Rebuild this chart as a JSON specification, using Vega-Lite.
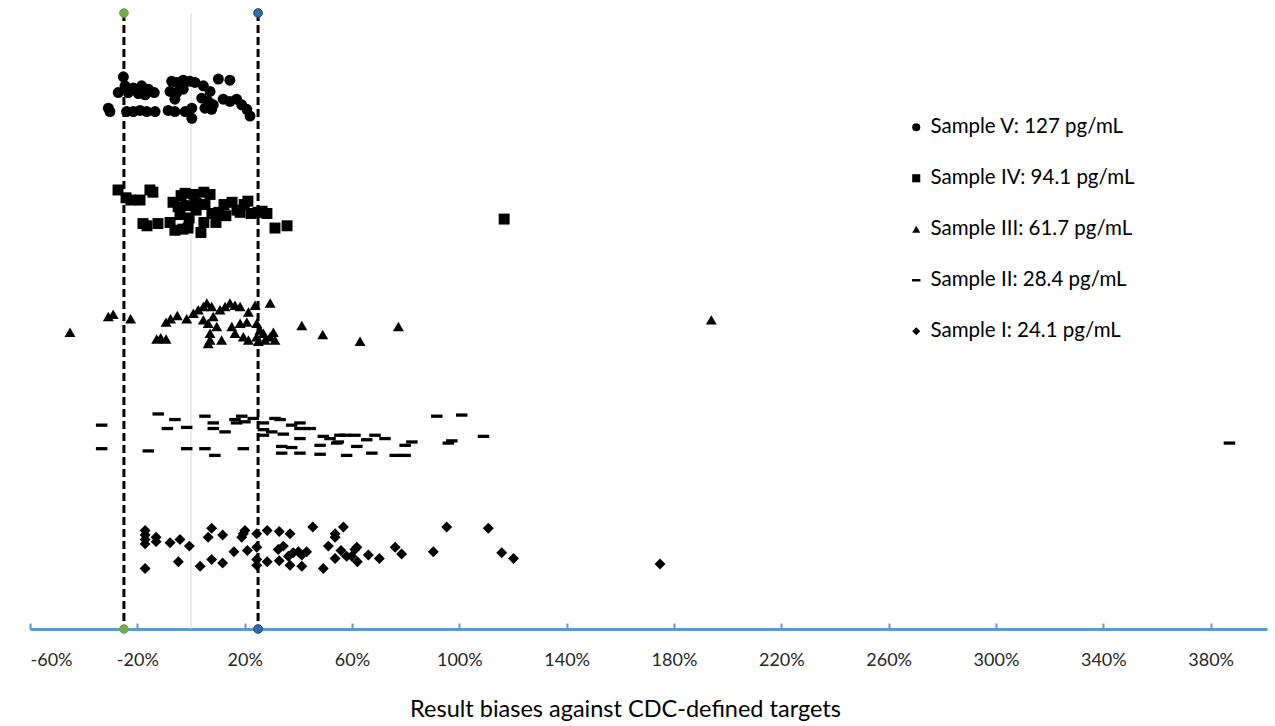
{
  "$schema": "https://vega.github.io/schema/vega-lite/v6.json",
  "width": 1237,
  "height": 616,
  "autosize": {"type": "none"},
  "padding": {"left": 30, "top": 13, "right": 8, "bottom": 97},
  "background": "white",
  "config": {"view": {"stroke": null}, "font": "Lato"},
  "datasets": {
    "points": [
      {"s":"V","bias":-25.2,"pos":4.93},{"s":"V","bias":-24.6,"pos":4.85},{"s":"V","bias":-21.5,"pos":4.83},{"s":"V","bias":-18.4,"pos":4.85},{"s":"V","bias":-15.9,"pos":4.82},{"s":"V","bias":-13.7,"pos":4.79},{"s":"V","bias":-27.1,"pos":4.79},{"s":"V","bias":-23.4,"pos":4.79},{"s":"V","bias":-19.6,"pos":4.78},{"s":"V","bias":-17.1,"pos":4.77},
      {"s":"V","bias":-30.8,"pos":4.65},{"s":"V","bias":-30.2,"pos":4.62},{"s":"V","bias":-24.0,"pos":4.62},{"s":"V","bias":-21.5,"pos":4.62},{"s":"V","bias":-19.0,"pos":4.63},{"s":"V","bias":-16.5,"pos":4.62},{"s":"V","bias":-13.4,"pos":4.62},{"s":"V","bias":-8.5,"pos":4.63},{"s":"V","bias":-6.0,"pos":4.62},{"s":"V","bias":-2.2,"pos":4.62},
      {"s":"V","bias":0.3,"pos":4.65},{"s":"V","bias":0.3,"pos":4.56},{"s":"V","bias":-7.2,"pos":4.89},{"s":"V","bias":-5.3,"pos":4.88},{"s":"V","bias":-2.9,"pos":4.90},{"s":"V","bias":-0.4,"pos":4.89},{"s":"V","bias":1.5,"pos":4.88},{"s":"V","bias":-7.8,"pos":4.80},{"s":"V","bias":-5.3,"pos":4.79},{"s":"V","bias":-2.9,"pos":4.82},
      {"s":"V","bias":-6.0,"pos":4.73},{"s":"V","bias":4.6,"pos":4.85},{"s":"V","bias":7.1,"pos":4.80},{"s":"V","bias":10.2,"pos":4.91},{"s":"V","bias":14.5,"pos":4.90},{"s":"V","bias":4.0,"pos":4.74},{"s":"V","bias":6.4,"pos":4.71},{"s":"V","bias":8.3,"pos":4.68},{"s":"V","bias":5.2,"pos":4.65},{"s":"V","bias":7.7,"pos":4.64},
      {"s":"V","bias":12.0,"pos":4.73},{"s":"V","bias":14.5,"pos":4.71},{"s":"V","bias":17.0,"pos":4.73},{"s":"V","bias":18.9,"pos":4.68},{"s":"V","bias":20.8,"pos":4.64},{"s":"V","bias":22.0,"pos":4.58},
      {"s":"IV","bias":-27.2,"pos":3.92},{"s":"IV","bias":-24.2,"pos":3.85},{"s":"IV","bias":-22.4,"pos":3.83},{"s":"IV","bias":-19.0,"pos":3.83},{"s":"IV","bias":-15.3,"pos":3.92},{"s":"IV","bias":-14.2,"pos":3.90},{"s":"IV","bias":-17.9,"pos":3.62},{"s":"IV","bias":-16.4,"pos":3.60},{"s":"IV","bias":-12.3,"pos":3.62},{"s":"IV","bias":-7.8,"pos":3.63},
      {"s":"IV","bias":-6.0,"pos":3.56},{"s":"IV","bias":-3.0,"pos":3.57},{"s":"IV","bias":-1.1,"pos":3.58},{"s":"IV","bias":3.7,"pos":3.54},{"s":"IV","bias":-6.7,"pos":3.81},{"s":"IV","bias":-4.8,"pos":3.77},{"s":"IV","bias":-3.7,"pos":3.87},{"s":"IV","bias":-2.2,"pos":3.89},{"s":"IV","bias":1.1,"pos":3.88},{"s":"IV","bias":4.8,"pos":3.90},
      {"s":"IV","bias":7.1,"pos":3.88},{"s":"IV","bias":1.9,"pos":3.80},{"s":"IV","bias":-1.9,"pos":3.78},{"s":"IV","bias":1.9,"pos":3.74},{"s":"IV","bias":5.2,"pos":3.79},{"s":"IV","bias":7.8,"pos":3.71},{"s":"IV","bias":10.4,"pos":3.72},{"s":"IV","bias":12.3,"pos":3.79},{"s":"IV","bias":15.3,"pos":3.81},{"s":"IV","bias":17.1,"pos":3.74},
      {"s":"IV","bias":19.8,"pos":3.79},{"s":"IV","bias":21.2,"pos":3.82},{"s":"IV","bias":22.4,"pos":3.71},{"s":"IV","bias":25.0,"pos":3.72},{"s":"IV","bias":26.5,"pos":3.73},{"s":"IV","bias":28.3,"pos":3.71},{"s":"IV","bias":9.3,"pos":3.63},{"s":"IV","bias":4.8,"pos":3.63},{"s":"IV","bias":-0.7,"pos":3.67},{"s":"IV","bias":-4.1,"pos":3.70},
      {"s":"IV","bias":31.3,"pos":3.58},{"s":"IV","bias":35.8,"pos":3.60},{"s":"IV","bias":116.7,"pos":3.66},{"s":"IV","bias":13.0,"pos":3.69},{"s":"IV","bias":18.3,"pos":3.72},
      {"s":"III","bias":-45.1,"pos":2.65},{"s":"III","bias":-30.8,"pos":2.79},{"s":"III","bias":-29.0,"pos":2.81},{"s":"III","bias":-22.5,"pos":2.77},{"s":"III","bias":-12.8,"pos":2.59},{"s":"III","bias":-11.3,"pos":2.60},{"s":"III","bias":-9.3,"pos":2.59},{"s":"III","bias":-9.3,"pos":2.74},{"s":"III","bias":-7.6,"pos":2.77},{"s":"III","bias":-5.1,"pos":2.80},
      {"s":"III","bias":-1.6,"pos":2.77},{"s":"III","bias":0.9,"pos":2.82},{"s":"III","bias":2.7,"pos":2.85},{"s":"III","bias":4.6,"pos":2.88},{"s":"III","bias":5.9,"pos":2.91},{"s":"III","bias":7.7,"pos":2.88},{"s":"III","bias":4.6,"pos":2.76},{"s":"III","bias":6.4,"pos":2.73},{"s":"III","bias":8.3,"pos":2.79},{"s":"III","bias":9.6,"pos":2.70},
      {"s":"III","bias":7.1,"pos":2.64},{"s":"III","bias":7.1,"pos":2.58},{"s":"III","bias":6.4,"pos":2.55},{"s":"III","bias":11.4,"pos":2.58},{"s":"III","bias":10.8,"pos":2.85},{"s":"III","bias":12.7,"pos":2.88},{"s":"III","bias":14.5,"pos":2.91},{"s":"III","bias":16.4,"pos":2.89},{"s":"III","bias":18.3,"pos":2.88},{"s":"III","bias":15.2,"pos":2.70},
      {"s":"III","bias":18.3,"pos":2.73},{"s":"III","bias":20.8,"pos":2.74},{"s":"III","bias":16.4,"pos":2.64},{"s":"III","bias":19.5,"pos":2.61},{"s":"III","bias":21.4,"pos":2.58},{"s":"III","bias":21.4,"pos":2.83},{"s":"III","bias":23.9,"pos":2.89},{"s":"III","bias":24.5,"pos":2.73},{"s":"III","bias":25.7,"pos":2.67},{"s":"III","bias":24.5,"pos":2.61},
      {"s":"III","bias":27.0,"pos":2.64},{"s":"III","bias":29.5,"pos":2.61},{"s":"III","bias":30.7,"pos":2.65},{"s":"III","bias":25.1,"pos":2.57},{"s":"III","bias":27.6,"pos":2.58},{"s":"III","bias":31.3,"pos":2.58},{"s":"III","bias":29.5,"pos":2.91},{"s":"III","bias":41.3,"pos":2.71},{"s":"III","bias":49.1,"pos":2.63},{"s":"III","bias":63.0,"pos":2.57},
      {"s":"III","bias":77.3,"pos":2.70},{"s":"III","bias":193.9,"pos":2.76},
      {"s":"II","bias":-33.3,"pos":1.82},{"s":"II","bias":-33.3,"pos":1.61},{"s":"II","bias":-15.9,"pos":1.59},{"s":"II","bias":-12.2,"pos":1.92},{"s":"II","bias":-6.0,"pos":1.87},{"s":"II","bias":-8.8,"pos":1.79},{"s":"II","bias":-1.6,"pos":1.80},{"s":"II","bias":-1.6,"pos":1.61},{"s":"II","bias":5.2,"pos":1.90},{"s":"II","bias":8.3,"pos":1.84},
      {"s":"II","bias":8.3,"pos":1.79},{"s":"II","bias":12.7,"pos":1.76},{"s":"II","bias":5.2,"pos":1.61},{"s":"II","bias":8.9,"pos":1.55},{"s":"II","bias":16.4,"pos":1.87},{"s":"II","bias":18.9,"pos":1.90},{"s":"II","bias":17.0,"pos":1.84},{"s":"II","bias":20.1,"pos":1.85},{"s":"II","bias":19.5,"pos":1.61},{"s":"II","bias":23.2,"pos":1.88},
      {"s":"II","bias":27.0,"pos":1.84},{"s":"II","bias":27.0,"pos":1.78},{"s":"II","bias":27.0,"pos":1.73},{"s":"II","bias":30.1,"pos":1.76},{"s":"II","bias":31.3,"pos":1.88},{"s":"II","bias":33.2,"pos":1.87},{"s":"II","bias":34.4,"pos":1.74},{"s":"II","bias":37.5,"pos":1.82},{"s":"II","bias":40.6,"pos":1.84},{"s":"II","bias":40.6,"pos":1.79},
      {"s":"II","bias":44.4,"pos":1.79},{"s":"II","bias":33.8,"pos":1.63},{"s":"II","bias":37.5,"pos":1.62},{"s":"II","bias":33.8,"pos":1.57},{"s":"II","bias":40.6,"pos":1.57},{"s":"II","bias":40.6,"pos":1.70},{"s":"II","bias":48.1,"pos":1.56},{"s":"II","bias":49.3,"pos":1.72},{"s":"II","bias":51.8,"pos":1.70},{"s":"II","bias":55.5,"pos":1.73},
      {"s":"II","bias":57.4,"pos":1.73},{"s":"II","bias":48.1,"pos":1.64},{"s":"II","bias":54.3,"pos":1.66},{"s":"II","bias":54.9,"pos":1.67},{"s":"II","bias":61.8,"pos":1.63},{"s":"II","bias":61.1,"pos":1.73},{"s":"II","bias":65.5,"pos":1.69},{"s":"II","bias":68.6,"pos":1.73},{"s":"II","bias":72.3,"pos":1.70},{"s":"II","bias":58.0,"pos":1.55},
      {"s":"II","bias":67.4,"pos":1.57},{"s":"II","bias":76.1,"pos":1.55},{"s":"II","bias":79.8,"pos":1.55},{"s":"II","bias":79.8,"pos":1.64},{"s":"II","bias":82.3,"pos":1.67},{"s":"II","bias":91.6,"pos":1.90},{"s":"II","bias":100.9,"pos":1.91},{"s":"II","bias":95.9,"pos":1.66},{"s":"II","bias":97.2,"pos":1.68},{"s":"II","bias":109.0,"pos":1.72},
      {"s":"II","bias":387.0,"pos":1.66},
      {"s":"I","bias":-17.1,"pos":0.88},{"s":"I","bias":-17.1,"pos":0.84},{"s":"I","bias":-17.1,"pos":0.80},{"s":"I","bias":-17.1,"pos":0.76},{"s":"I","bias":-13.0,"pos":0.82},{"s":"I","bias":-13.0,"pos":0.78},{"s":"I","bias":-7.8,"pos":0.77},{"s":"I","bias":-4.1,"pos":0.80},{"s":"I","bias":-0.6,"pos":0.74},{"s":"I","bias":-17.1,"pos":0.54},
      {"s":"I","bias":-4.7,"pos":0.60},{"s":"I","bias":3.4,"pos":0.56},{"s":"I","bias":7.7,"pos":0.90},{"s":"I","bias":6.4,"pos":0.82},{"s":"I","bias":11.8,"pos":0.84},{"s":"I","bias":7.7,"pos":0.62},{"s":"I","bias":11.8,"pos":0.59},{"s":"I","bias":16.0,"pos":0.69},{"s":"I","bias":20.1,"pos":0.88},{"s":"I","bias":19.5,"pos":0.85},
      {"s":"I","bias":18.9,"pos":0.82},{"s":"I","bias":21.0,"pos":0.70},{"s":"I","bias":24.5,"pos":0.85},{"s":"I","bias":24.5,"pos":0.73},{"s":"I","bias":24.5,"pos":0.62},{"s":"I","bias":24.5,"pos":0.57},{"s":"I","bias":28.4,"pos":0.88},{"s":"I","bias":32.9,"pos":0.87},{"s":"I","bias":36.9,"pos":0.85},{"s":"I","bias":28.4,"pos":0.60},
      {"s":"I","bias":32.9,"pos":0.61},{"s":"I","bias":36.9,"pos":0.57},{"s":"I","bias":32.5,"pos":0.71},{"s":"I","bias":34.4,"pos":0.74},{"s":"I","bias":36.3,"pos":0.65},{"s":"I","bias":38.1,"pos":0.68},{"s":"I","bias":40.0,"pos":0.69},{"s":"I","bias":41.3,"pos":0.66},{"s":"I","bias":43.1,"pos":0.69},{"s":"I","bias":41.3,"pos":0.56},
      {"s":"I","bias":45.4,"pos":0.91},{"s":"I","bias":49.3,"pos":0.54},{"s":"I","bias":51.2,"pos":0.74},{"s":"I","bias":53.7,"pos":0.85},{"s":"I","bias":53.7,"pos":0.82},{"s":"I","bias":56.8,"pos":0.91},{"s":"I","bias":53.7,"pos":0.63},{"s":"I","bias":55.9,"pos":0.70},{"s":"I","bias":58.0,"pos":0.65},{"s":"I","bias":59.9,"pos":0.65},
      {"s":"I","bias":61.8,"pos":0.73},{"s":"I","bias":61.1,"pos":0.71},{"s":"I","bias":62.0,"pos":0.60},{"s":"I","bias":66.1,"pos":0.66},{"s":"I","bias":70.2,"pos":0.63},{"s":"I","bias":76.1,"pos":0.73},{"s":"I","bias":78.5,"pos":0.67},{"s":"I","bias":90.3,"pos":0.69},{"s":"I","bias":95.3,"pos":0.91},{"s":"I","bias":110.8,"pos":0.90},
      {"s":"I","bias":115.8,"pos":0.68},{"s":"I","bias":120.2,"pos":0.63},{"s":"I","bias":174.8,"pos":0.58}
    ],
    "limits": [{"bias": -25, "c": "low"}, {"bias": 25, "c": "high"}],
    "ends": [
      {"bias": -25, "pos": 0, "c": "low"}, {"bias": -25, "pos": 5.5, "c": "low"},
      {"bias": 25, "pos": 0, "c": "high"}, {"bias": 25, "pos": 5.5, "c": "high"}
    ],
    "zero": [{"bias": 0}]
  },
  "layer": [
    {
      "data": {"name": "zero"},
      "mark": {"type": "rule", "color": "#d9d9d9", "strokeWidth": 1},
      "encoding": {
        "x": {"field": "bias", "type": "quantitative", "scale": {"domain": [-60, 401], "nice": false, "zero": false}}
      }
    },
    {
      "data": {"name": "limits"},
      "mark": {"type": "rule", "color": "#000000", "strokeWidth": 3, "strokeDash": [8, 4]},
      "encoding": {
        "x": {"field": "bias", "type": "quantitative"}
      }
    },
    {
      "data": {"name": "points"},
      "mark": {"type": "point", "filled": true, "color": "#000000", "opacity": 1, "strokeWidth": 0, "size": 120},
      "encoding": {
        "x": {
          "field": "bias", "type": "quantitative",
          "axis": {
            "values": [-60, -20, 20, 60, 100, 140, 180, 220, 260, 300, 340, 380],
            "labelExpr": "datum.value + '%'",
            "grid": false,
            "domainColor": "#5b9bd5", "domainWidth": 3,
            "tickColor": "#5b9bd5", "tickWidth": 2, "tickSize": -6,
            "labelFontSize": 18, "labelColor": "#262626", "labelPadding": 28, "labelFont": "Lato",
            "title": "Result biases against CDC-defined targets",
            "titleFontSize": 23.5, "titleFontWeight": "normal", "titleColor": "#000000", "titleFont": "Lato",
            "titlePadding": 28,
            "titleX": 595
          }
        },
        "y": {"field": "pos", "type": "quantitative", "scale": {"domain": [0, 5.5], "nice": false}, "axis": null},
        "shape": {
          "field": "s", "type": "nominal",
          "scale": {
            "domain": ["V", "IV", "III", "II", "I"],
            "range": ["circle", "square", "triangle-up", "M-1.05,-0.3H1.05V0.3H-1.05Z", "diamond"]
          },
          "legend": {
            "title": null,
            "orient": "none",
            "legendX": 876,
            "legendY": 104,
            "labelFontSize": 20.5,
            "labelFont": "Lato",
            "labelColor": "#000000",
            "labelLimit": 400,
            "symbolFillColor": "#000000",
            "symbolStrokeColor": "#000000",
            "symbolStrokeWidth": 0,
            "symbolSize": 65,
            "symbolOpacity": 1,
            "rowPadding": 30,
            "labelOffset": 4,
            "labelExpr": "datum.label == 'V' ? 'Sample V: 127 pg/mL' : datum.label == 'IV' ? 'Sample IV: 94.1 pg/mL' : datum.label == 'III' ? 'Sample III: 61.7 pg/mL' : datum.label == 'II' ? 'Sample II: 28.4 pg/mL' : 'Sample I: 24.1 pg/mL'"
          }
        }
      }
    },
    {
      "data": {"name": "ends"},
      "mark": {"type": "point", "filled": true, "size": 75, "opacity": 1, "strokeWidth": 1},
      "encoding": {
        "x": {"field": "bias", "type": "quantitative"},
        "y": {"field": "pos", "type": "quantitative"},
        "fill": {"field": "c", "type": "nominal", "scale": {"domain": ["low", "high"], "range": ["#70ad47", "#2e6fa8"]}, "legend": null},
        "stroke": {"field": "c", "type": "nominal", "scale": {"domain": ["low", "high"], "range": ["#6aa84f", "#1f3f66"]}, "legend": null}
      }
    }
  ]
}
